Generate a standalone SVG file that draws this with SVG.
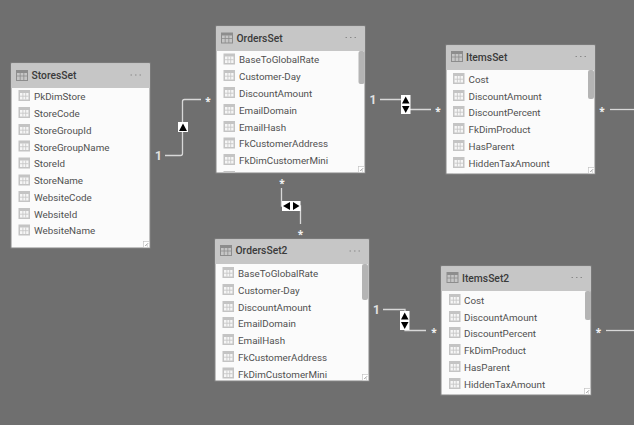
<svg xmlns="http://www.w3.org/2000/svg" width="634" height="425" viewBox="0 0 634 425">
<style>
text{font-family:Roboto,"Liberation Sans",sans-serif}
.body{fill:#fbfbfb;stroke:#858585;stroke-width:1}
.head{fill:#c6c6c6}
.title{font-size:10.300px;font-weight:500;fill:#3a3a3a}
.row{font-size:9.800px;fill:#505050}
.dots{fill:none;stroke:#8a8a8a;stroke-width:1;stroke-dasharray:1.500 3}
.scroll{fill:#b4b4b4}
.line{fill:none;stroke:#d8d8d8;stroke-width:1.300}
.one{font-size:12px;font-weight:700;fill:#e2e2e2}
.star{font-size:10px;font-weight:700;fill:#f2f2f2;text-anchor:middle;font-family:"Open Sans",sans-serif}
.badge{fill:#fff}
.tri{fill:#000}
.grip{fill:#fff;stroke:#bdbdbd;stroke-width:.6}
</style>
<defs>
<g id="field"><rect x="0" y="0" width="11.500" height="11" fill="#c4c4c4"/><rect x="1.500" y="3" width="8.500" height="6.500" fill="#f6f6f6"/><path d="M1.500 6.200H10M4.400 3V9.500M7.200 3V9.500" stroke="#c4c4c4" stroke-width=".8" fill="none"/></g>
<g id="tbl"><rect x="0" y="0" width="11" height="10" fill="none" stroke="#8d8d8d"/><rect x="0" y="0" width="11" height="2.500" fill="#8d8d8d"/><path d="M0 5.500H11M3.700 2.500V10M7.300 2.500V10" stroke="#8d8d8d" stroke-width=".8" fill="none"/></g>
<g id="grip"><rect x="0" y="0" width="6" height="6" class="grip"/><path d="M1.800 4.500L4.500 1.800M4.500 4.500h-.6" stroke="#666" stroke-width=".7" fill="none"/></g>
<clipPath id="c2"><rect x="216" y="26" width="149" height="147"/></clipPath>
<clipPath id="c3"><rect x="446" y="45" width="149" height="129"/></clipPath>
<clipPath id="c5"><rect x="441" y="266" width="150" height="129"/></clipPath>
</defs>
<rect width="634" height="425" fill="#6f6f6f"/>

<g id="connectors">
<path class="line" d="M165 155.500H180.500Q182.500 155.500 182.500 153.500V101.500Q182.500 99.500 184.500 99.500H201"/>
<path class="line" d="M380 99.500H405V109.500H431"/>
<path class="line" d="M281.500 188V206H300.500V224"/>
<path class="line" d="M383 309.500H405V330.500H426"/>
<path class="line" d="M610 109.500H634"/>
<path class="line" d="M606 330.500H634"/>
<rect class="badge" x="178" y="122" width="10" height="10"/><path class="tri" d="M183 123.500L187 131H179Z"/>
<rect class="badge" x="401" y="95" width="9.500" height="19"/><path class="tri" d="M405.700 96.500L409.500 103.500H402Z"/><path class="tri" d="M402 106H409.500L405.700 113Z"/>
<rect class="badge" x="400" y="311" width="9.500" height="19"/><path class="tri" d="M404.700 312.500L408.500 319.500H401Z"/><path class="tri" d="M401 322H408.500L404.700 329Z"/>
<rect class="badge" x="282" y="201" width="18.500" height="10"/><path class="tri" d="M283 206L290 202V210Z"/><path class="tri" d="M293 202L299.500 206L293 210Z"/>
<text class="one" x="155" y="159.500">1</text>
<text class="one" x="369.500" y="103.500">1</text>
<text class="one" x="373" y="313.500">1</text>
<text class="star" x="208" y="105">*</text>
<text class="star" x="438" y="115">*</text>
<text class="star" x="282" y="186.500">*</text>
<text class="star" x="300.500" y="237.500">*</text>
<text class="star" x="434" y="336">*</text>
<text class="star" x="602" y="115">*</text>
<text class="star" x="598.500" y="336">*</text>
</g>

<g id="StoresSet">
<rect class="body" x="11" y="63" width="139" height="185"/>
<rect class="head" x="11" y="63.500" width="139" height="24.500"/>
<use href="#tbl" x="16.500" y="70.500"/>
<text class="title" x="31.500" y="78.500">StoresSet</text>
<path class="dots" d="M130.500 75H143"/>
<use href="#field" x="18.500" y="90"/><text class="row" x="34" y="99.500">PkDimStore</text>
<use href="#field" x="18.500" y="107"/><text class="row" x="34" y="116.500">StoreCode</text>
<use href="#field" x="18.500" y="124"/><text class="row" x="34" y="133.500">StoreGroupId</text>
<use href="#field" x="18.500" y="140.500"/><text class="row" x="34" y="150.500">StoreGroupName</text>
<use href="#field" x="18.500" y="157.500"/><text class="row" x="34" y="166.500">StoreId</text>
<use href="#field" x="18.500" y="174.500"/><text class="row" x="34" y="183.500">StoreName</text>
<use href="#field" x="18.500" y="191"/><text class="row" x="34" y="200.500">WebsiteCode</text>
<use href="#field" x="18.500" y="208"/><text class="row" x="34" y="217.500">WebsiteId</text>
<use href="#field" x="18.500" y="224.500"/><text class="row" x="34" y="233.500">WebsiteName</text>
<use href="#grip" x="143.500" y="241.500"/>
</g>

<g id="OrdersSet">
<rect class="body" x="216" y="26" width="149" height="147"/>
<rect class="head" x="216" y="26.500" width="149" height="24.500"/>
<use href="#tbl" x="221.500" y="33"/>
<text class="title" x="236.500" y="41.500">OrdersSet</text>
<path class="dots" d="M345.500 37.500H358"/>
<use href="#field" x="223.500" y="53.500"/><text class="row" x="239" y="63">BaseToGlobalRate</text>
<use href="#field" x="223.500" y="70"/><text class="row" x="239" y="79.500">Customer-Day</text>
<use href="#field" x="223.500" y="87"/><text class="row" x="239" y="96.500">DiscountAmount</text>
<use href="#field" x="223.500" y="104"/><text class="row" x="239" y="113.500">EmailDomain</text>
<use href="#field" x="223.500" y="121"/><text class="row" x="239" y="130.500">EmailHash</text>
<use href="#field" x="223.500" y="137.500"/><text class="row" x="239" y="147">FkCustomerAddress</text>
<use href="#field" x="223.500" y="154"/><text class="row" x="239" y="163.500">FkDimCustomerMini</text>
<g clip-path="url(#c2)"><use href="#field" x="223.500" y="171"/></g>
<rect class="scroll" x="358.500" y="51" width="6" height="33" rx="2"/>
<use href="#grip" x="358.500" y="166.500"/>
</g>

<g id="ItemsSet">
<rect class="body" x="446" y="45" width="149" height="129"/>
<rect class="head" x="446" y="45.500" width="149" height="24.500"/>
<use href="#tbl" x="451.500" y="51.500"/>
<text class="title" x="466" y="60.500">ItemsSet</text>
<path class="dots" d="M575.500 56.500H588"/>
<use href="#field" x="453" y="73"/><text class="row" x="468.500" y="82.500">Cost</text>
<use href="#field" x="453" y="90"/><text class="row" x="468.500" y="99.500">DiscountAmount</text>
<use href="#field" x="453" y="106"/><text class="row" x="468.500" y="115.500">DiscountPercent</text>
<use href="#field" x="453" y="123"/><text class="row" x="468.500" y="132.500">FkDimProduct</text>
<use href="#field" x="453" y="140"/><text class="row" x="468.500" y="149.500">HasParent</text>
<use href="#field" x="453" y="157"/><text class="row" x="468.500" y="166.500">HiddenTaxAmount</text>
<g clip-path="url(#c3)"><use href="#field" x="453" y="173"/></g>
<rect class="scroll" x="588" y="70" width="6" height="29" rx="2"/>
<use href="#grip" x="588.500" y="167.500"/>
</g>

<g id="OrdersSet2">
<rect class="body" x="215" y="239" width="154" height="142"/>
<rect class="head" x="215" y="239.500" width="154" height="24.500"/>
<use href="#tbl" x="220.500" y="245.500"/>
<text class="title" x="235.500" y="254">OrdersSet2</text>
<path class="dots" d="M349.500 251H362"/>
<use href="#field" x="222.500" y="267"/><text class="row" x="238" y="276.500">BaseToGlobalRate</text>
<use href="#field" x="222.500" y="284"/><text class="row" x="238" y="293.500">Customer-Day</text>
<use href="#field" x="222.500" y="301"/><text class="row" x="238" y="310.500">DiscountAmount</text>
<use href="#field" x="222.500" y="317"/><text class="row" x="238" y="326.500">EmailDomain</text>
<use href="#field" x="222.500" y="334"/><text class="row" x="238" y="343.500">EmailHash</text>
<use href="#field" x="222.500" y="351"/><text class="row" x="238" y="360.500">FkCustomerAddress</text>
<use href="#field" x="222.500" y="367.500"/><text class="row" x="238" y="377.500">FkDimCustomerMini</text>
<rect class="scroll" x="362" y="264" width="6" height="36" rx="2"/>
<use href="#grip" x="362.500" y="374.500"/>
</g>

<g id="ItemsSet2">
<rect class="body" x="441" y="266" width="150" height="129"/>
<rect class="head" x="441" y="266.500" width="150" height="24.500"/>
<use href="#tbl" x="447" y="272.500"/>
<text class="title" x="462" y="281.500">ItemsSet2</text>
<path class="dots" d="M571.500 277.500H584"/>
<use href="#field" x="449" y="294"/><text class="row" x="464" y="303.500">Cost</text>
<use href="#field" x="449" y="311"/><text class="row" x="464" y="320.500">DiscountAmount</text>
<use href="#field" x="449" y="327"/><text class="row" x="464" y="336.500">DiscountPercent</text>
<use href="#field" x="449" y="344"/><text class="row" x="464" y="353.500">FkDimProduct</text>
<use href="#field" x="449" y="361"/><text class="row" x="464" y="370.500">HasParent</text>
<use href="#field" x="449" y="378"/><text class="row" x="464" y="387.500">HiddenTaxAmount</text>
<g clip-path="url(#c5)"><use href="#field" x="449" y="394"/></g>
<rect class="scroll" x="585" y="291" width="6" height="29" rx="2"/>
<use href="#grip" x="584.500" y="388.500"/>
</g>
</svg>
